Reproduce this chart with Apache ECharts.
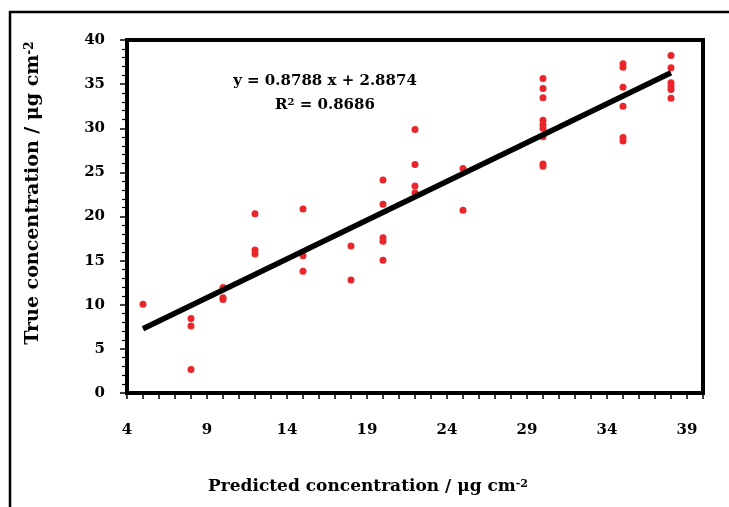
<!DOCTYPE html>
<html>
<head>
<meta charset="utf-8">
<script src="https://cdn.jsdelivr.net/npm/echarts@6/dist/echarts.min.js"></script>
<style>
  html, body { margin: 0; padding: 0; background: #fff; }
  #chart { width: 729px; height: 507px; }
</style>
</head>
<body>
<div id="chart"></div>
<script>
// Predicted vs true concentration (µg cm^-2), grouped by predicted level
const predicted = [
  5,
  8, 8, 8,
  10, 10, 10,
  12, 12, 12,
  15, 15, 15,
  18, 18,
  20, 20, 20, 20, 20,
  22, 22, 22, 22,
  25, 25,
  30, 30, 30, 30, 30, 30, 30, 30, 30,
  35, 35, 35, 35, 35, 35,
  38, 38, 38, 38, 38, 38
];
const trueValues = [
  10.05,
  8.45, 7.6, 2.65,
  11.95, 10.8, 10.6,
  20.3, 16.2, 15.75,
  20.85, 15.55, 13.8,
  16.65, 12.8,
  24.15, 21.4, 17.6, 17.2, 15.05,
  29.85, 25.9, 23.45, 22.7,
  25.45, 20.7,
  35.65, 34.5, 33.45, 30.9, 30.4, 30.0, 29.05, 25.95, 25.7,
  37.3, 36.9, 34.65, 32.5, 28.95, 28.55,
  38.25, 36.85, 35.15, 34.8, 34.4, 33.4
];

// Linear fit as reported on the chart
const slope = 0.8788;
const intercept = 2.8874;
const fitRange = [5, 38];

// Axis tick labels
const xTickLabels = [4, 9, 14, 19, 24, 29, 34, 39];
const yTickLabels = [0, 5, 10, 15, 20, 25, 30, 35, 40];

const points = predicted.map((p, i) => [p, trueValues[i]]);
const fitLine = fitRange.map(x => [x, slope * x + intercept]);

const FONT = '"DejaVu Serif", "Liberation Serif", serif';
const SUP = (size) => ({ font: 'bold ' + size + 'px ' + FONT, fill: '#000', verticalAlign: 'top', lineHeight: 10, padding: [0, 0, 8, 0] });

const chart = echarts.init(document.getElementById('chart'), null, { renderer: 'canvas' });
chart.setOption({
  animation: false,
  backgroundColor: '#fff',
  grid: {
    left: 127, top: 40, right: 26, bottom: 114,
    show: true, borderColor: '#000', borderWidth: 4, backgroundColor: 'transparent'
  },
  xAxis: {
    type: 'value', min: 4, max: 40, interval: 1,
    axisLine: { show: true, onZero: false, lineStyle: { color: '#000', width: 4 } },
    axisTick: { show: true, length: 6, lineStyle: { color: '#000', width: 1.5 } },
    axisLabel: {
      margin: 30, color: '#000', fontFamily: FONT, fontWeight: 'bold', fontSize: 15,
      formatter: v => (xTickLabels.includes(v) ? String(v) : '')
    },
    splitLine: { show: false }
  },
  yAxis: {
    type: 'value', min: 0, max: 40, interval: 5,
    axisLine: { show: true, lineStyle: { color: '#000', width: 4 } },
    axisTick: { show: true, length: 7, lineStyle: { color: '#000', width: 1.5 } },
    minorTick: { show: true, splitNumber: 5, length: 5, lineStyle: { color: '#000', width: 1.2 } },
    axisLabel: {
      margin: 22, color: '#000', fontFamily: FONT, fontWeight: 'bold', fontSize: 15,
      formatter: v => (yTickLabels.includes(v) ? String(v) : '')
    },
    splitLine: { show: false }
  },
  series: [
    {
      type: 'scatter', data: points,
      symbol: 'circle', symbolSize: 7,
      itemStyle: { color: '#e8262b', opacity: 1 }, z: 2
    },
    {
      type: 'line', data: fitLine,
      symbol: 'none', lineStyle: { color: '#000', width: 5.5 }, z: 3
    }
  ],
  graphic: [
    {
      type: 'rect', silent: true,
      shape: { x: 10, y: 12, width: 800, height: 600 },
      style: { fill: 'none', stroke: '#000', lineWidth: 2.5 }
    },
    {
      type: 'text', x: 325, y: 81, silent: true,
      style: {
        text: 'y = 0.8788 x + 2.8874', align: 'center', verticalAlign: 'middle',
        font: 'bold 15px ' + FONT, fill: '#000'
      }
    },
    {
      type: 'text', x: 325, y: 105, silent: true,
      style: {
        text: 'R{sup|2} = 0.8686', align: 'center', verticalAlign: 'middle',
        font: 'bold 15px ' + FONT, fill: '#000',
        rich: { sup: SUP(10) }
      }
    },
    {
      type: 'text', x: 368, y: 487, silent: true,
      style: {
        text: 'Predicted concentration / μg cm{sup|-2}', align: 'center', verticalAlign: 'middle',
        font: 'bold 17px ' + FONT, fill: '#000',
        rich: { sup: SUP(11) }
      }
    },
    {
      type: 'text', x: 33, y: 193, rotation: Math.PI / 2, silent: true,
      style: {
        text: 'True concentration / μg cm{sup|-2}', align: 'center', verticalAlign: 'middle',
        font: 'bold 19px ' + FONT, fill: '#000',
        rich: { sup: SUP(12) }
      }
    }
  ]
});
</script>
</body>
</html>
